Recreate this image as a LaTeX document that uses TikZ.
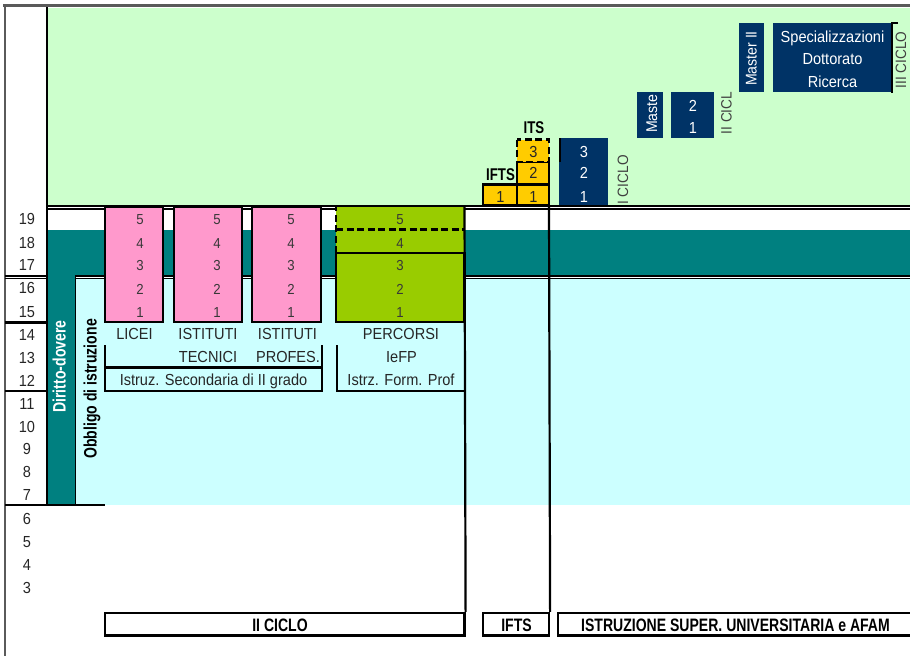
\documentclass[tikz,border=0pt]{standalone}
\usepackage{fontspec}
\setmainfont{Liberation Sans}[FakeStretch=0.91]
\newfontfamily\bcond{Liberation Sans}[FakeStretch=0.78]
\definecolor{lgreen}{HTML}{CCFFCC}
\definecolor{tealb}{HTML}{008080}
\definecolor{lcyan}{HTML}{CCFFFF}
\definecolor{pinkb}{HTML}{FF99CC}
\definecolor{limeb}{HTML}{99CC00}
\definecolor{goldb}{HTML}{FFCC00}
\definecolor{navyb}{HTML}{003366}
\definecolor{framec}{HTML}{5A5A5A}
\definecolor{txtc}{HTML}{262626}
\begin{document}
\begin{tikzpicture}[x=1pt,y=-1pt,
  lw/.style={line width=2.2pt},
  thinl/.style={line width=1pt},
  reg/.style={inner sep=0pt, anchor=base, font=\fontsize{16}{18}\selectfont, text=txtc},
  num/.style={inner sep=0pt, anchor=base, font=\fontsize{14.5}{17}\selectfont, text=black!78},
  wnum/.style={inner sep=0pt, anchor=base, font=\fontsize{16}{18}\selectfont, text=white},
  blab/.style={inner sep=0pt, anchor=base, font=\bcond\bfseries\fontsize{18}{20}\selectfont, text=black},
  tlab/.style={inner sep=0pt, anchor=base, font=\bcond\bfseries\fontsize{17}{20}\selectfont, text=black},
  cyc/.style={inner sep=0pt, anchor=base, rotate=90, font=\fontsize{15}{17}\selectfont, text=black!75},
  wrot/.style={inner sep=0pt, anchor=base, rotate=90, font=\fontsize{15.5}{17}\selectfont, text=white},
  dashb/.style={line width=2.2pt, dash pattern=on 7pt off 3.5pt},
]
\useasboundingbox (0,0) rectangle (910,656);
% ---------- backgrounds ----------
\fill[lgreen] (47,8) rectangle (910,205);
\fill[tealb] (47,230) rectangle (910,275);
\fill[tealb] (47,230) rectangle (75,505);
\fill[lcyan] (75,278) rectangle (910,505);
% ---------- frame ----------
\draw[framec, line width=2.5pt] (3,5.5) -- (910,5.5);
\draw[framec, line width=2pt] (4.5,5) -- (4.5,656);
\draw[lw] (47,7) -- (47,505);
\draw[thinl] (75,276) -- (75,505);
% double lines
\draw[line width=2.2pt] (47,205.8) -- (910,205.8);
\draw[line width=1.4pt] (47,208.9) -- (910,208.9);
\draw[line width=2.2pt] (75,275.6) -- (910,275.6);
\draw[line width=1.2pt] (75,278.6) -- (910,278.6);
\draw[line width=2.2pt] (5,275.6) -- (47,275.6);
\draw[line width=1.2pt] (5,278.6) -- (47,278.6);
% row lines of the age column
\draw[lw] (5,322.5) -- (47,322.5);
\draw[lw] (5,391) -- (47,391);
\draw[lw] (5,505) -- (105,505);
% ---------- age numbers ----------
\foreach \n/\yy in {19/224,18/248.5,17/270.5,16/293.5,15/317,14/340,13/363.5,12/386.5,11/409,10/432,9/454.5,8/477.5,7/500.5,6/524.5,5/547.5,4/570.5,3/593.5}
  \node[reg] (age\n) at (27,\yy) {\n};
% ---------- rotated side labels ----------
\node[blab, rotate=90, text=white] (dirdov) at (65.5,366.5) {Diritto-dovere};
\node[blab, rotate=90] (obbligo) at (96.5,389) {Obbligo di istruzione};
% ---------- secondary school boxes ----------
\draw[lw, fill=pinkb] (105,207) rectangle (163,322);
\draw[lw, fill=pinkb] (174,207) rectangle (242,322);
\draw[lw, fill=pinkb] (252,207) rectangle (321,322);
\fill[limeb] (336,207) rectangle (464.5,322);
\draw[lw] (336,253) rectangle (464.5,322);
\draw[dashb] (336,253) -- (336,207);
\draw[dashb] (336,229.5) -- (464.5,229.5);
\foreach \n/\yy in {5/224,4/248.5,3/270.5,2/294,1/317}{
  \node[num] (li\n) at (140,\yy) {\n};
  \node[num] (te\n) at (217,\yy) {\n};
  \node[num] (pr\n) at (291,\yy) {\n};
  \node[num] (pe\n) at (400,\yy) {\n};
}
% labels
\node[reg] (licei) at (134.5,339) {LICEI};
\node[reg] (ist1) at (208,339) {ISTITUTI};
\node[reg] (tec) at (208,362.5) {TECNICI};
\node[reg] (ist2) at (287.5,339) {ISTITUTI};
\node[reg] (prof) at (288,362.5) {PROFES.};
\node[reg] (istruz) at (213.5,385.5) {Istruz. Secondaria di II grado};
\node[reg] (perc) at (401,339) {PERCORSI};
\node[reg] (iefp) at (401.5,362.5) {IeFP};
\node[reg] (istrz) at (401,385.5) {Istrz. Form. Prof};
% brackets
\draw[lw] (105,345) -- (105,391) -- (322,391) -- (322,345);
\draw[lw] (105,367.5) -- (322,367.5);
\draw[lw] (337,345) -- (337,391) -- (464.5,391);
% ---------- bottom boxes ----------
\node[draw, lw, inner sep=0pt, minimum width=359.5pt, minimum height=22.5pt] (b2ciclo) at (284.75,624.25) {};
\node[blab] (t2ciclo) at (280,631.5) {II CICLO};
\node[draw, lw, inner sep=0pt, minimum width=66pt, minimum height=22.5pt] (bifts) at (516,624.25) {};
\node[blab] (tifts) at (516.5,631.5) {IFTS};
\coordinate (bsupnw) at (558,613);
\coordinate (bsupsw) at (558,635.5);
\draw[lw] (914,613) -- (bsupnw) -- (bsupsw) -- (914,635.5);
\node[blab] (tsup) at (735.5,631.5) {ISTRUZIONE SUPER. UNIVERSITARIA e AFAM};
% long vertical connectors
\coordinate (percne) at (464.5,205);
\coordinate (iftsse) at (549,205);
\draw[lw] (percne) -- (b2ciclo.north east);
\draw[lw] (iftsse) -- (bifts.north east);
% ---------- IFTS / ITS ----------
\draw[lw, fill=goldb] (483,184.5) rectangle (517,205);
\draw[lw, fill=goldb] (517,184.5) rectangle (549,205);
\draw[lw, fill=goldb] (517,162) rectangle (549,184.5);
\fill[goldb] (517,139.5) rectangle (549,162);
\draw[dashb] (517,139.5) rectangle (549,162);
\node[reg] (if1) at (500.5,202) {1};
\node[reg] (its1) at (533.5,202) {1};
\node[reg] (its2) at (533.5,178.5) {2};
\node[reg] (its3) at (533.5,157) {3};
\node[tlab] (iftslab) at (500.5,180) {IFTS};
\node[tlab] (itslab) at (534,133.5) {ITS};
% ---------- I CICLO ----------
\fill[navyb] (559,138) rectangle (608,205);
\draw[line width=2.5pt] (560,138) -- (560,162);
\node[wnum] (c13) at (584,157) {3};
\node[wnum] (c12) at (584,178.5) {2};
\node[wnum] (c11) at (584,202) {1};
\node[cyc] (ciclo1) at (628,180) {I CICLO};
% ---------- II CICLO ----------
\fill[navyb] (637,92) rectangle (663,138);
\node[wrot, anchor=base west] (master1) at (657,133) {Maste};
\fill[navyb] (671,92) rectangle (714,138);
\node[wnum] (c22) at (693,111.5) {2};
\node[wnum] (c21) at (693,133.5) {1};
\node[cyc] (ciclo2) at (731.5,113) {II CICL};
% ---------- III CICLO ----------
\fill[navyb] (739,23) rectangle (764,92);
\node[wrot] (master2) at (756.5,58.5) {Master II};
\fill[navyb] (773,23) rectangle (892,92);
\node[wnum] (spec) at (832.5,42.3) {Specializzazioni};
\node[wnum] (dott) at (832.5,64.5) {Dottorato};
\node[wnum] (ric) at (832.5,87.3) {Ricerca};
\draw[line width=2.5pt] (898,23) -- (892,23) -- (892,93);
\node[cyc] (ciclo3) at (906,60) {III CICLO};
\end{tikzpicture}
\end{document}
